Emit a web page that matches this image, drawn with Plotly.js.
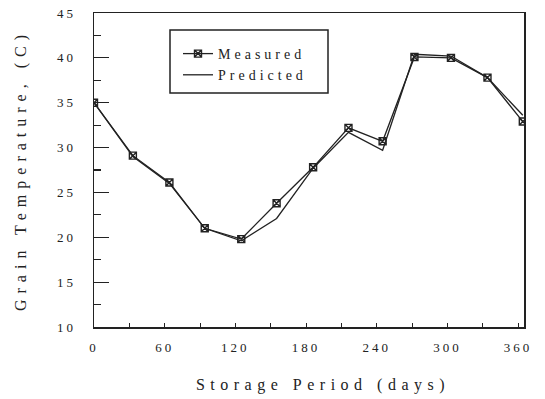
<!DOCTYPE html>
<html>
<head>
<meta charset="utf-8">
<script src="https://cdn.plot.ly/plotly-3.0.1.min.js"></script>
<style>
  html, body { margin: 0; padding: 0; background: #fff; }
  #chart { width: 545px; height: 399px; }
  .xtick text, .ytick text { letter-spacing: 3px; }
  .xtitle { letter-spacing: 5.5px; transform: translateX(14px); }
  .ytitle { letter-spacing: 6px; }
  .legendtext { letter-spacing: 4px; }
</style>
</head>
<body>
<div id="chart"></div>
<script>
// Storage day of each reading
const days = [0, 33, 64, 94, 125, 155, 186, 216, 245, 272, 303, 334, 364];
// Measured grain temperature (C)
const measured = [35.0, 29.1, 26.1, 21.0, 19.8, 23.8, 27.8, 32.2, 30.7, 40.1, 40.0, 37.8, 32.9];
// Predicted grain temperature (C)
const predicted = [35.0, 29.0, 26.0, 21.0, 19.6, 22.1, 27.7, 31.7, 29.7, 40.4, 40.2, 37.8, 33.6];
// Tick labels
const xTicks = [0, 60, 120, 180, 240, 300, 360];
const yTicks = [10, 15, 20, 25, 30, 35, 40, 45];

const ink = '#222222';
const serif = 'Liberation Serif, DejaVu Serif, serif';

const traces = [
  {
    x: days, y: measured, name: 'Measured', type: 'scatter', mode: 'lines+markers',
    line: {color: ink, width: 1.3},
    marker: {symbol: 'square-x-open', size: 7, color: ink, line: {color: ink, width: 1.4}}
  },
  {
    x: days, y: predicted, name: 'Predicted', type: 'scatter', mode: 'lines',
    line: {color: ink, width: 1.3}
  }
];

const layout = {
  width: 545, height: 399,
  margin: {l: 94, r: 21, t: 13, b: 72},
  paper_bgcolor: '#fff', plot_bgcolor: '#fff',
  font: {family: serif, color: ink, size: 12},
  showlegend: true,
  legend: {
    x: (178 - 94) / 430, y: (327 - 38) / 314, xanchor: 'left', yanchor: 'top',
    bgcolor: 'rgba(0,0,0,0)', borderwidth: 0,
    font: {family: serif, size: 14, color: ink},
    tracegroupgap: 0
  },
  shapes: [{
    type: 'rect', xref: 'paper', yref: 'paper',
    x0: (170 - 94) / 430, x1: (328 - 94) / 430,
    y0: (327 - 93) / 314, y1: (327 - 30) / 314,
    line: {color: ink, width: 1.5}, fillcolor: '#fff', layer: 'below'
  }],
  xaxis: {
    range: [0, 365], tickvals: xTicks, ticktext: xTicks.map(String),
    ticks: 'inside', ticklen: 4, tickwidth: 1, tickcolor: ink,
    minor: {dtick: 30, tick0: 0, ticks: 'inside', ticklen: 4, tickcolor: ink, showgrid: false},
    showline: true, linecolor: ink, linewidth: 1.5, mirror: true,
    showgrid: false, zeroline: false,
    tickfont: {family: serif, size: 13, color: ink},
    ticklabelstandoff: 8,
    title: {text: 'Storage Period (days)', font: {family: serif, size: 16, color: ink}, standoff: 24}
  },
  yaxis: {
    range: [10, 45], tickvals: yTicks, ticktext: yTicks.map(String),
    ticks: 'inside', ticklen: 15, tickwidth: 1.2, tickcolor: ink,
    minor: {dtick: 2.5, tick0: 10, ticks: 'inside', ticklen: 7, tickcolor: ink, showgrid: false},
    showline: true, linecolor: ink, linewidth: 1.5, mirror: true,
    showgrid: false, zeroline: false,
    tickfont: {family: serif, size: 13, color: ink},
    ticklabelstandoff: 14,
    title: {text: 'Grain Temperature, (C)', font: {family: serif, size: 16, color: ink}, standoff: 26}
  }
};

Plotly.newPlot('chart', traces, layout, {displayModeBar: false, staticPlot: true});
</script>
</body>
</html>
